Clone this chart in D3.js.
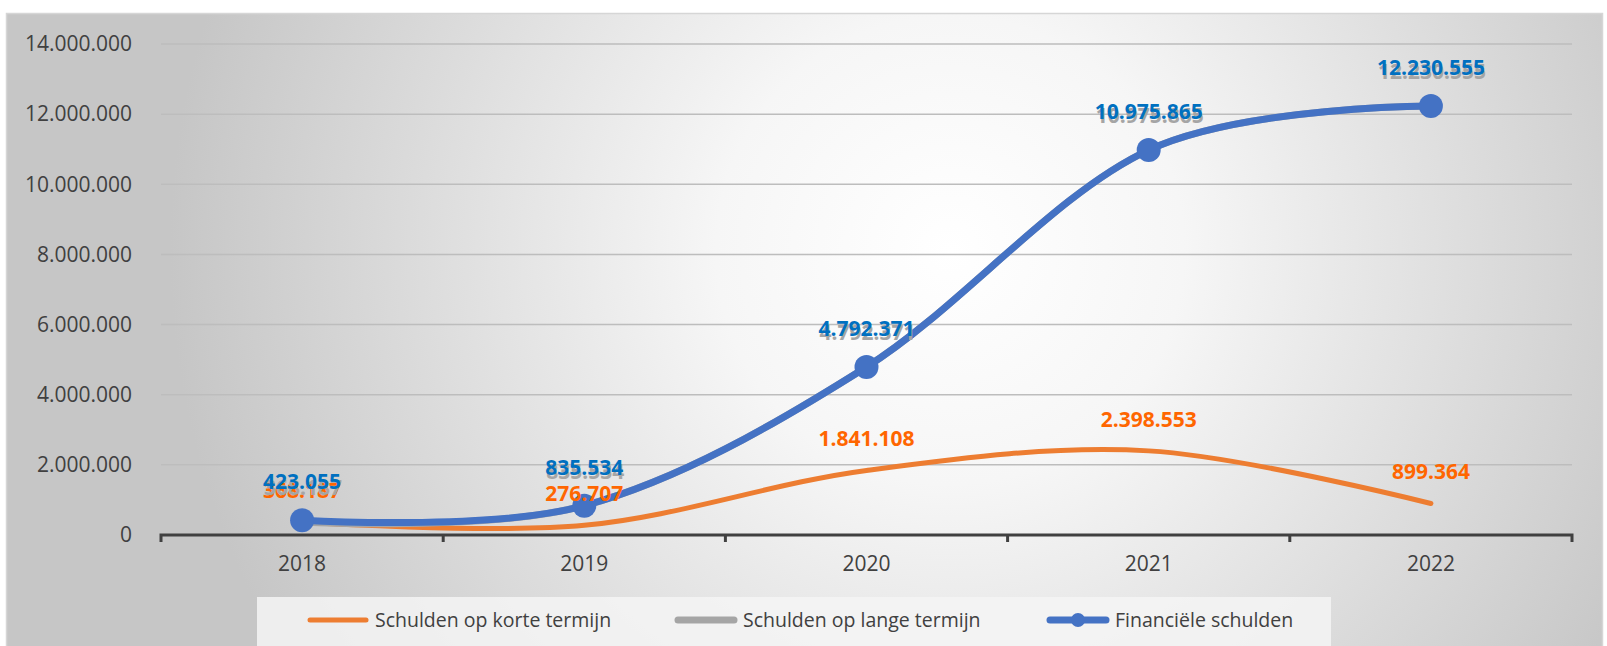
<!DOCTYPE html>
<html>
<head>
<meta charset="utf-8">
<script src="https://cdn.jsdelivr.net/npm/d3@7"></script>
<style>
  body { margin: 0; background: #fff; }
  svg { display: block; font-family: "Open Sans", sans-serif; }
</style>
</head>
<body>
<div id="chart"></div>
<script>
// data
const years = ['2018', '2019', '2020', '2021', '2022'];
const kortValues = [368187, 276707, 1841108, 2398553, 899364];
const langValues = [368187, 835534, 4792371, 10975865, 12230555];
const financieelValues = [423055, 835534, 4792371, 10975865, 12230555];
const yTicks = [0, 2000000, 4000000, 6000000, 8000000, 10000000, 12000000, 14000000];
const seriesNames = ['Schulden op korte termijn', 'Schulden op lange termijn', 'Financiële schulden'];

const width = 1607;
const height = 646;
const margin = { left: 161, right: 35, top: 44, bottom: 111 };

const nl = d3.formatLocale({ decimal: ',', thousands: '.', grouping: [3], currency: ['€', ''] });
const fmt = nl.format(',d');

const svg = d3.select('#chart')
  .append('svg')
  .attr('width', width)
  .attr('height', height);

// background gradient
const defs = svg.append('defs');
const grad = defs.append('radialGradient')
  .attr('id', 'bg')
  .attr('gradientUnits', 'userSpaceOnUse')
  .attr('cx', 950).attr('cy', 250).attr('r', 780);
grad.append('stop').attr('offset', '0%').attr('stop-color', '#ffffff');
grad.append('stop').attr('offset', '30%').attr('stop-color', '#f6f6f6');
grad.append('stop').attr('offset', '100%').attr('stop-color', '#c6c6c6');

svg.append('rect')
  .attr('x', 6.5).attr('y', 13.5)
  .attr('width', 1596).attr('height', 640)
  .attr('fill', 'url(#bg)')
  .attr('stroke', '#d6d6d6')
  .attr('stroke-width', 1.5);

const x = d3.scaleBand()
  .domain(years)
  .range([margin.left, width - margin.right]);

const y = d3.scaleLinear()
  .domain([0, 14000000])
  .range([height - margin.bottom, margin.top]);

const cx = d => x(d) + x.bandwidth() / 2;

// gridlines
svg.append('g')
  .selectAll('line')
  .data(yTicks.filter(t => t > 0))
  .join('line')
  .attr('x1', margin.left)
  .attr('x2', width - margin.right)
  .attr('y1', d => y(d))
  .attr('y2', d => y(d))
  .attr('stroke', '#bdbdbd')
  .attr('stroke-width', 1.5);

// y axis labels
const yAxis = svg.append('g')
  .attr('transform', `translate(${margin.left},0)`)
  .call(d3.axisLeft(y).tickValues(yTicks).tickFormat(fmt).tickSize(0).tickPadding(29));
yAxis.select('.domain').remove();
yAxis.selectAll('text')
  .attr('fill', '#404040')
  .style('font-size', '21px')
  .style('font-family', '"Open Sans", sans-serif');

// x axis
const xAxis = svg.append('g')
  .attr('transform', `translate(0,${y(0)})`)
  .call(d3.axisBottom(x).tickSize(0).tickPadding(21));
xAxis.select('.domain')
  .attr('stroke', '#404040')
  .attr('stroke-width', 3)
  .attr('d', `M${margin.left},7V0H${width - margin.right}V7`);
xAxis.selectAll('text')
  .attr('fill', '#404040')
  .style('font-size', '21px')
  .style('font-family', '"Open Sans", sans-serif');
// tick marks between categories
xAxis.append('g')
  .selectAll('line')
  .data(years.slice(1))
  .join('line')
  .attr('x1', d => x(d)).attr('x2', d => x(d))
  .attr('y1', 0).attr('y2', 7)
  .attr('stroke', '#404040')
  .attr('stroke-width', 3);

const line = d3.line()
  .x((d, i) => cx(years[i]))
  .y(d => y(d))
  .curve(d3.curveCatmullRom.alpha(0));

const series = [
  { name: seriesNames[0], values: kortValues, color: '#ED7D31', label: '#FF6600', width: 5, marker: false, labelOff: 24, dx: 0 },
  { name: seriesNames[1], values: langValues, color: '#A5A5A5', label: '#A5A5A5', width: 7, marker: false, labelOff: 27, dx: 1 },
  { name: seriesNames[2], values: financieelValues, color: '#4472C4', label: '#0070C0', width: 7, marker: true, labelOff: 31, dx: 0 }
];

series.forEach(s => {
  svg.append('path')
    .datum(s.values)
    .attr('d', line)
    .attr('fill', 'none')
    .attr('stroke', s.color)
    .attr('stroke-width', s.width)
    .attr('stroke-linecap', 'round');
  if (s.marker) {
    svg.append('g')
      .selectAll('circle')
      .data(s.values)
      .join('circle')
      .attr('cx', (d, i) => cx(years[i]))
      .attr('cy', d => y(d))
      .attr('r', 12)
      .attr('fill', s.color);
  }
});

// data labels
series.forEach(s => {
  svg.append('g')
    .selectAll('text')
    .data(s.values)
    .join('text')
    .attr('x', (d, i) => cx(years[i]) + s.dx)
    .attr('y', d => y(d) - s.labelOff)
    .attr('text-anchor', 'middle')
    .attr('fill', s.label)
    .style('font-size', '21px')
    .style('font-weight', 'bold')
    .text(d => fmt(d));
});

// legend
const legend = svg.append('g');
legend.append('rect')
  .attr('x', 257).attr('y', 597)
  .attr('width', 1074).attr('height', 49)
  .attr('fill', '#f4f4f4')
  .attr('opacity', 0.85);

const legendX = [310, 678, 1050];
series.forEach((s, i) => {
  const g = legend.append('g').attr('transform', `translate(${legendX[i]},620)`);
  g.append('line')
    .attr('x1', 0).attr('x2', 56)
    .attr('stroke', s.color)
    .attr('stroke-width', s.width)
    .attr('stroke-linecap', 'round');
  if (s.marker) {
    g.append('circle').attr('cx', 28).attr('r', 7).attr('fill', s.color);
  }
  g.append('text')
    .attr('x', 65)
    .attr('dy', '0.35em')
    .attr('fill', '#404040')
    .style('font-size', '19.5px')
    .text(s.name);
});
</script>
</body>
</html>
